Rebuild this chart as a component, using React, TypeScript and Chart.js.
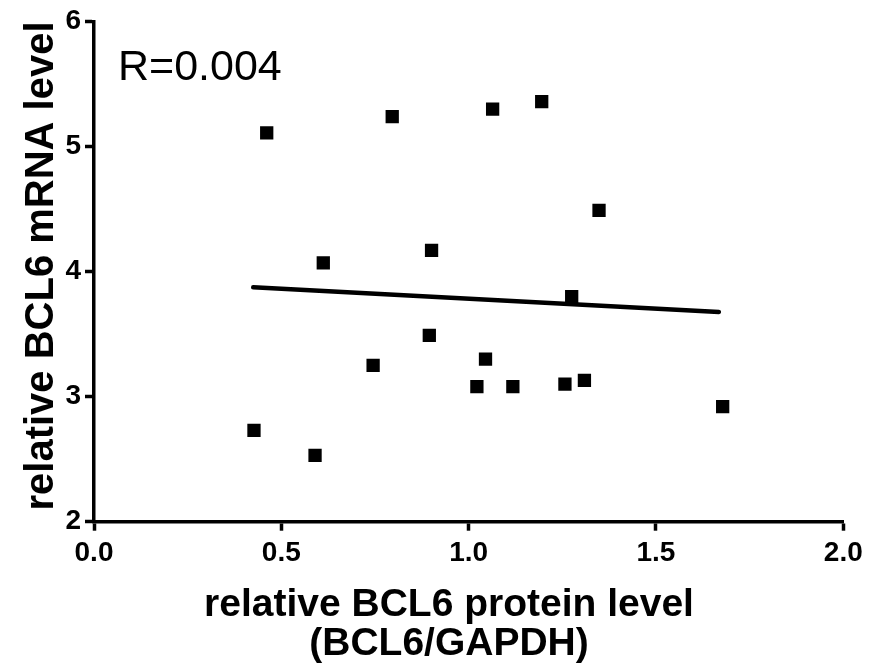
import React, { useEffect, useRef } from "react";
import { Chart, registerables } from "chart.js";

Chart.register(...registerables);

// ---- data ----
const proteinLevel = [0.427, 0.461, 0.59, 0.612, 0.745, 0.796, 0.895, 0.901, 1.022, 1.045, 1.064, 1.118, 1.195, 1.257, 1.275, 1.309, 1.348, 1.678];
const mrnaLevel = [2.73, 5.11, 2.53, 4.07, 3.25, 5.24, 3.49, 4.17, 3.08, 3.3, 5.3, 3.08, 5.36, 3.1, 3.8, 3.13, 4.49, 2.92];
const fitProtein = [0.425, 1.668];
const fitMrna = [3.875, 3.678];
const xTicks = [0, 0.5, 1.0, 1.5, 2.0];
const yTicks = [2, 3, 4, 5, 6];
const rLabel = "R=0.004";
const xTitleLines = ["relative BCL6 protein level", "(BCL6/GAPDH)"];
const yTitle = "relative BCL6 mRNA level";

const FONT = '"Liberation Sans", Arial, Helvetica, sans-serif';

const textPlugin = {
  id: "annotText",
  afterDraw(chart: any) {
    const ctx = chart.ctx as CanvasRenderingContext2D;
    ctx.save();
    ctx.fillStyle = "#000";
    ctx.font = `43px ${FONT}`;
    ctx.textAlign = "left";
    ctx.textBaseline = "alphabetic";
    ctx.fillText(rLabel, 118, 80);

    ctx.font = `bold 39px ${FONT}`;
    ctx.textAlign = "center";
    ctx.fillText(xTitleLines[0], 449, 616);
    ctx.fillText(xTitleLines[1], 449, 655);

    ctx.font = `bold 40px ${FONT}`;
    ctx.translate(53, 266);
    ctx.rotate(-Math.PI / 2);
    ctx.fillText(yTitle, 0, 0);
    ctx.restore();
  },
};

export default function App() {
  const ref = useRef<HTMLCanvasElement | null>(null);

  useEffect(() => {
    document.body.style.margin = "0";
    const canvas = ref.current;
    if (!canvas) return;

    const axisCommon = {
      border: { display: true, color: "#000", width: 3.5 },
      grid: {
        display: true,
        drawOnChartArea: false,
        drawTicks: true,
        tickLength: 9,
        tickWidth: 3.5,
        tickColor: "#000",
        color: "#000",
      },
    };

    const chart = new Chart(canvas, {
      type: "scatter",
      data: {
        datasets: [
          {
            type: "scatter",
            label: "samples",
            data: proteinLevel.map((x, i) => ({ x, y: mrnaLevel[i] })),
            pointStyle: "rect",
            pointRadius: 9.4,
            pointHoverRadius: 9.4,
            pointBackgroundColor: "#000",
            pointBorderWidth: 0,
            borderColor: "#000",
            backgroundColor: "#000",
          },
          {
            type: "line",
            label: "fit",
            data: fitProtein.map((x, i) => ({ x, y: fitMrna[i] })),
            borderColor: "#000",
            borderWidth: 4.5,
            borderCapStyle: "round",
            pointRadius: 0,
            fill: false,
            tension: 0,
          } as any,
        ],
      },
      options: {
        animation: false,
        responsive: false,
        devicePixelRatio: 1,
        layout: { padding: { top: 21.7, right: 26.7, left: 0, bottom: 0 } },
        plugins: {
          legend: { display: false },
          tooltip: { enabled: false },
          title: { display: false },
        },
        scales: {
          x: {
            type: "linear",
            min: 0,
            max: 2,
            ...axisCommon,
            afterFit: (s: any) => {
              s.height = 666 - 521.7;
            },
            afterBuildTicks: (s: any) => {
              s.ticks = xTicks.map((v) => ({ value: v }));
            },
            ticks: {
              color: "#000",
              padding: 6,
              font: { family: FONT, size: 28, weight: "bold" },
              callback: (v: any) => Number(v).toFixed(1),
            },
          },
          y: {
            type: "linear",
            min: 2,
            max: 6,
            ...axisCommon,
            afterFit: (s: any) => {
              s.width = 94;
            },
            afterBuildTicks: (s: any) => {
              s.ticks = yTicks.map((v) => ({ value: v }));
            },
            ticks: {
              color: "#000",
              padding: 4,
              font: { family: FONT, size: 28, weight: "bold" },
              callback: (v: any) => String(v),
            },
          },
        },
      } as any,
      plugins: [textPlugin],
    });

    return () => chart.destroy();
  }, []);

  return (
    <div style={{ width: 870, height: 666, background: "#fff" }}>
      <canvas ref={ref} width={870} height={666} style={{ display: "block" }} />
    </div>
  );
}
